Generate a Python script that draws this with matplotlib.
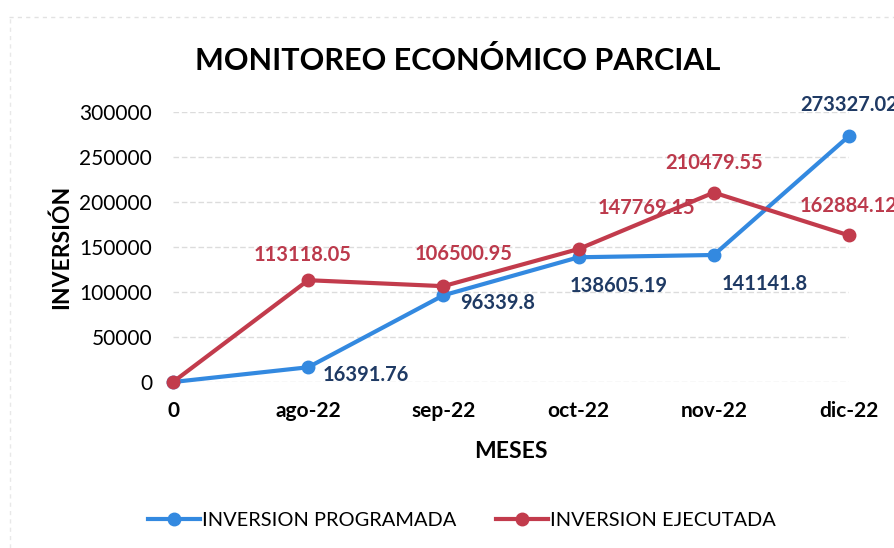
import matplotlib
matplotlib.use('Agg')
import matplotlib.pyplot as plt
import numpy as np

plt.rcParams['font.family'] = ['Lato', 'DejaVu Sans']

meses = ['0', 'ago-22', 'sep-22', 'oct-22', 'nov-22', 'dic-22']
programada = [0, 16391.76, 96339.8, 138605.19, 141141.8, 273327.02]
ejecutada = [0, 113118.05, 106500.95, 147769.15, 210479.55, 162884.12]

# label offsets in pixels (dx, dy) from each point, first point has no label
off_prog = [None, (58, -8), (54, -8), (40, -29), (51, -29), (0, 31)]
off_ejec = [None, (-6, 25), (20, 32), (68, 41), (0, 30), (0, 29)]

azul = '#3389E0'
rojo = '#C23B4C'
azul_txt = '#1F3A64'
rojo_txt = '#BC3A4C'

fig = plt.figure(figsize=(8.95, 5.48), dpi=100)
ax = fig.add_axes([0.1933, 0.3029, 0.7553, 0.4927])

x = np.arange(len(meses))
ax.plot(x, programada, color=azul, lw=3, marker='o', ms=9,
        label='INVERSION PROGRAMADA', clip_on=False, zorder=3)
ax.plot(x, ejecutada, color=rojo, lw=3, marker='o', ms=9,
        label='INVERSION EJECUTADA', clip_on=False, zorder=4)

px = 72.0 / 100
for i in range(1, len(meses)):
    dx, dy = off_prog[i]
    ax.annotate(str(programada[i]), (x[i], programada[i]),
                xytext=(dx * px, dy * px), textcoords='offset points',
                ha='center', va='center', fontsize=14.5, fontweight='bold',
                color=azul_txt, annotation_clip=False, zorder=5)
    dx, dy = off_ejec[i]
    ax.annotate(str(ejecutada[i]), (x[i], ejecutada[i]),
                xytext=(dx * px, dy * px), textcoords='offset points',
                ha='center', va='center', fontsize=14.5, fontweight='bold',
                color=rojo_txt, annotation_clip=False, zorder=5)

ax.set_xlim(0, 5)
ax.set_ylim(0, 300000)
ax.set_yticks(np.arange(0, 300001, 50000))
ax.set_xticks(x)
ax.set_xticklabels(meses, fontweight='bold')
ax.tick_params(axis='both', length=0)
ax.tick_params(axis='x', pad=14, labelsize=15)
ax.tick_params(axis='y', pad=15, labelsize=15)
ax.grid(axis='y', color='#dcdcdc', lw=1, ls=(0, (4, 2)))
ax.set_axisbelow(True)
for s in ax.spines.values():
    s.set_visible(False)

ax.set_xlabel('MESES', fontsize=16.5, fontweight='bold', labelpad=14)
ax.set_ylabel('INVERSIÓN', fontsize=16.5, fontweight='bold', labelpad=5)
fig.text(0.511, 0.89, 'MONITOREO ECONÓMICO PARCIAL', ha='center', va='center',
         fontsize=22, fontweight='bold')

fig.legend(loc='center', bbox_to_anchor=(0.516, 0.05), ncol=2, frameon=False,
           fontsize=14.4, handlelength=2.6, handletextpad=0.1, columnspacing=2.0)

# faint chart border
fig.add_artist(plt.Line2D([0.01, 1.0], [0.969, 0.969], color='#e2e2e2', lw=1,
                          ls=(0, (3, 3)), transform=fig.transFigure))
fig.add_artist(plt.Line2D([0.011, 0.011], [0.0, 0.969], color='#e8e8e8', lw=1,
                          ls=(0, (3, 3)), transform=fig.transFigure))

fig.savefig('out.png', dpi=100)
